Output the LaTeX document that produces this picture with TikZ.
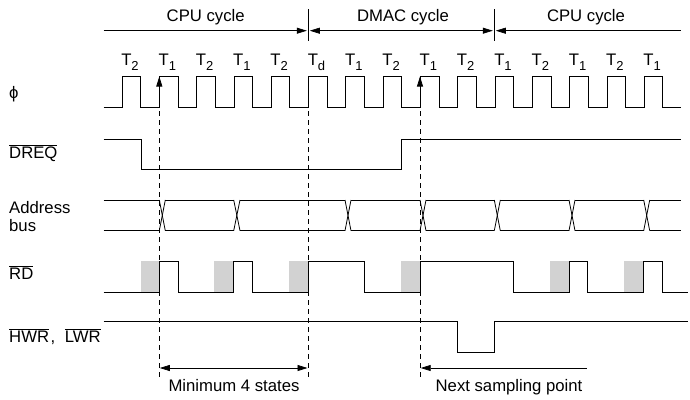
\documentclass[tikz,border=0pt]{standalone}
\usepackage{fontspec}
\setmainfont{Liberation Sans}
\usepackage{tikz}
\usetikzlibrary{arrows.meta}
\tikzstyle{signal} = [line width=0.8pt, line join=miter]
\tikzstyle{guide} = [line width=0.7pt, dash pattern=on 5pt off 4pt]
\tikzstyle{span} = [line width=0.7pt, >={Triangle[length=10pt,width=6pt]}]
\tikzstyle{label} = [inner sep=0pt, anchor=base, font=\fontsize{16.7}{18}\selectfont]
\tikzstyle{sig} = [inner sep=0pt, anchor=base west, font=\fontsize{16.7}{18}\selectfont]
\newcommand{\tstate}[1]{T\raisebox{-0.5ex}{\fontsize{13}{13}\selectfont #1}}
\newcommand{\inv}[1]{$\overline{\mbox{#1}}$}

\begin{document}
\begin{tikzpicture}[x=1pt,y=-1pt]
		\useasboundingbox (0,0) rectangle (690,399);
		%shaded read windows
		\foreach \xa/\xb in {141/159.3,213.7/233.7,289/308.3,401/420,550/569,624/643.3}
			\fill[gray!35] (\xa,261.3) rectangle (\xb,292);

		%cycle spans
		\coordinate (spanA) at (103.5,30.7);
		\coordinate (edgeA) at (308.3,30.7);
		\coordinate (edgeB) at (494.3,30.7);
		\coordinate (spanB) at (680.7,30.7);
		\draw[line width=0.7pt] (308.3,9)--(308.3,41);
		\draw[line width=0.7pt] (494.3,9)--(494.3,41);
		\draw[span,->](spanA)--([xshift=-1.5pt]edgeA);
		\draw[span,<->]([xshift=1.5pt]edgeA)--([xshift=-1.5pt]edgeB);
		\draw[span,<-]([xshift=1.5pt]edgeB)--(spanB);
		\node[label](cpu_a) at (205.7,21){CPU cycle};
		\node[label](dmac) at (403,21){DMAC cycle};
		\node[label](cpu_b) at (586,21){CPU cycle};

		%clock
		\draw[signal](103.5,107)
			\foreach \x in {122,159.3,196.6,233.9,271.2,308.5,345.8,383.1,420.4,457.7,495,532.3,569.6,606.9,644.2}
			{ --(\x,107)--(\x,76.3)--(\x+18.67,76.3)--(\x+18.67,107) }
			--(680.7,107);
		\foreach \x/\t [count=\i] in {130/2,167.3/1,204.6/2,241.9/1,279.2/2,316.5/d,353.8/1,391.1/2,428.4/1,465.7/2,503/1,540.3/2,577.6/1,614.9/2,652.2/1}
			\node[label](state\i) at (\x,65.7){\tstate{\t}};
		\node[sig](phi) at (9,98){ϕ};

		%DREQ
		\draw[signal](103.5,139)--(141,139)--(141,169.7)--(401.7,169.7)--(401.7,139)--(680.7,139);
		\node[sig](dreq) at (9,158){\inv{DREQ}};

		%address bus
		\foreach \xb/\xc in {159.3/165.3,233.7/240,345/351,420/426,494.3/500.3,569/575,643.7/649.7}
		{
			\draw[signal](\xb,200)--(\xc,230.7);
			\draw[signal](\xb,230.7)--(\xc,200);
		}
		\foreach \y in {200,230.7}
			\draw[signal](103.5,\y)--(159.3,\y) (165.3,\y)--(233.7,\y) (240,\y)--(345,\y) (351,\y)--(420,\y) (426,\y)--(494.3,\y) (500.3,\y)--(569,\y) (575,\y)--(643.7,\y) (649.7,\y)--(680.7,\y);
		\node[sig](addr) at (9,213){Address};
		\node[sig](bus) at (9,231){bus};

		%RD
		\draw[signal](103.5,292)--(159.3,292)--(159.3,261.3)--(178,261.3)--(178,292)--(233.7,292)--(233.7,261.3)--(252.7,261.3)--(252.7,292)--(308.3,292)--(308.3,261.3)--(364,261.3)--(364,292)--(420,292)--(420,261.3)--(513,261.3)--(513,292)--(569,292)--(569,261.3)--(587.7,261.3)--(587.7,292)--(643.3,292)--(643.3,261.3)--(662,261.3)--(662,292)--(687.7,292);
		\node[sig](rd) at (9,279){\inv{RD}};

		%HWR, LWR
		\draw[signal](103.5,321.7)--(457,321.7)--(457,352.3)--(494.3,352.3)--(494.3,321.7)--(687.7,321.7);
		\node[sig](hwr) at (9,342){\inv{HWR}\kern1.5pt, \hspace{5pt}\inv{LWR}};

		%sampling guides
		\coordinate (riseA) at (159.3,76.5);
		\coordinate (riseB) at (420,76.5);
		\foreach \x in {159.3,308.3,420}
			\draw[guide](\x,111)--(\x,377);
		\draw[span,<-](riseA)--(159.3,88);
		\draw[span,<-](riseB)--(420,88);

		%intervals
		\coordinate (minA) at (159.8,368);
		\coordinate (minB) at (307.5,368);
		\coordinate (nextA) at (420.7,368);
		\coordinate (nextB) at (587.3,368);
		\draw[span,<->](minA)--(minB);
		\draw[span,<-](nextA)--(nextB);
		\node[label](min_states) at (234,391){Minimum 4 states};
		\node[label](next_point) at (509,391){Next sampling point};
	\end{tikzpicture}
\end{document}
